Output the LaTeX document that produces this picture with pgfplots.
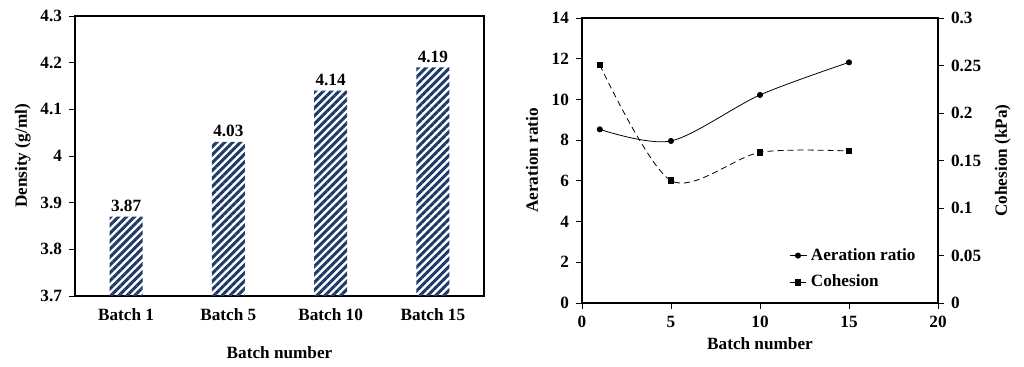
\documentclass[border=0pt]{standalone}
\usepackage{fontspec}
\setmainfont{Liberation Serif}
\usepackage{pgfplots}
\pgfplotsset{compat=1.18}
\usetikzlibrary{patterns.meta}
\definecolor{navy}{HTML}{1F3A66}
\begin{document}
\begin{tikzpicture}[font=\bfseries\fontsize{8.6}{10}\selectfont]
\path[use as bounding box] (0,0) rectangle (512pt,183.5pt);
% Left chart
\begin{axis}[
  at={(37.5pt,35.5pt)}, anchor=south west,
  scale only axis, width=204.5pt, height=140pt,
  xmin=-0.5, xmax=3.5, ymin=3.7, ymax=4.3,
  xtick={0,1,2,3}, xticklabels={Batch 1,Batch 5,Batch 10,Batch 15},
  x tick style={draw=none},
  ytick={3.7,3.8,...,4.3},
  yticklabels={3.7,3.8,3.9,4,4.1,4.2,4.3},
  tick align=outside, y tick style={black, thin},
  ytick pos=left,
  major tick length=3pt,
  axis line style={black, line width=0.9pt},
  xlabel={Batch number}, ylabel={Density (g/ml)},
  xlabel style={yshift=-6pt},
  ylabel style={yshift=-2pt},
  /pgf/number format/assume math mode=true,
  ticklabel style={font=\bfseries\fontsize{8.6}{10}\selectfont},
]
\addplot[ybar, bar width=16.5pt, draw=none,
  pattern={Lines[angle=45,distance=2.8pt,line width=1.5pt]}, pattern color=navy,
  nodes near coords, nodes near coords style={font=\bfseries\fontsize{8.6}{10}\selectfont, black, yshift=-1pt},
  point meta=explicit symbolic]
  coordinates {(0,3.87)[3.87] (1,4.03)[4.03] (2,4.14)[4.14] (3,4.19)[4.19]};
\end{axis}
% Right chart, left y axis
\begin{axis}[
  at={(291pt,32pt)}, anchor=south west,
  scale only axis, width=178pt, height=142.5pt,
  xmin=0, xmax=20, ymin=0, ymax=14,
  xtick={0,5,...,20}, ytick={0,2,...,14},
  tick align=outside, tick pos=left,
  major tick length=3pt,
  axis line style={black, line width=0.7pt},
  tick style={black, thin},
  xlabel={Batch number}, ylabel={Aeration ratio},
  xlabel style={yshift=2pt},
  ylabel style={yshift=0pt},
  /pgf/number format/assume math mode=true,
  ticklabel style={font=\bfseries\fontsize{8.6}{10}\selectfont},
]
\addplot[black, thin, smooth, mark=*, mark size=1.3pt]
  coordinates {(1,8.53) (5,7.96) (10,10.22) (15,11.82)};
\end{axis}
% Right chart, right y axis
\begin{axis}[
  at={(291pt,32pt)}, anchor=south west,
  scale only axis, width=178pt, height=142.5pt,
  xmin=0, xmax=20, ymin=0, ymax=0.3,
  axis x line=none,
  axis y line*=right,
  ytick={0,0.05,...,0.3},
  yticklabels={0,0.05,0.1,0.15,0.2,0.25,0.3},
  tick align=outside,
  major tick length=3pt,
  axis line style={black, line width=0.7pt},
  tick style={black, thin},
  ylabel={Cohesion (kPa)},
  ylabel style={yshift=0pt},
  /pgf/number format/assume math mode=true,
  ticklabel style={font=\bfseries\fontsize{8.6}{10}\selectfont},
  legend style={draw=none, fill=none, at={(0.575,0.215)}, anchor=north west,
    font=\bfseries\fontsize{8.6}{10}\selectfont, row sep=2pt,
    inner sep=1pt},
  legend cell align=left,
  legend image code/.code={\draw[#1] (0pt,0pt) -- (8.5pt,0pt); \path[#1] plot coordinates {(4.25pt,0pt)};},
]
\addlegendimage{black, thin, mark=*, mark size=1.3pt}
\addlegendentry{Aeration ratio}
\addplot[black, thin, densely dashed, smooth, mark=square*, mark size=1.4pt, mark options={solid}]
  coordinates {(1,0.2505) (5,0.1288) (10,0.1586) (15,0.160)};
\addlegendentry{Cohesion}
\end{axis}
\end{tikzpicture}
\end{document}
